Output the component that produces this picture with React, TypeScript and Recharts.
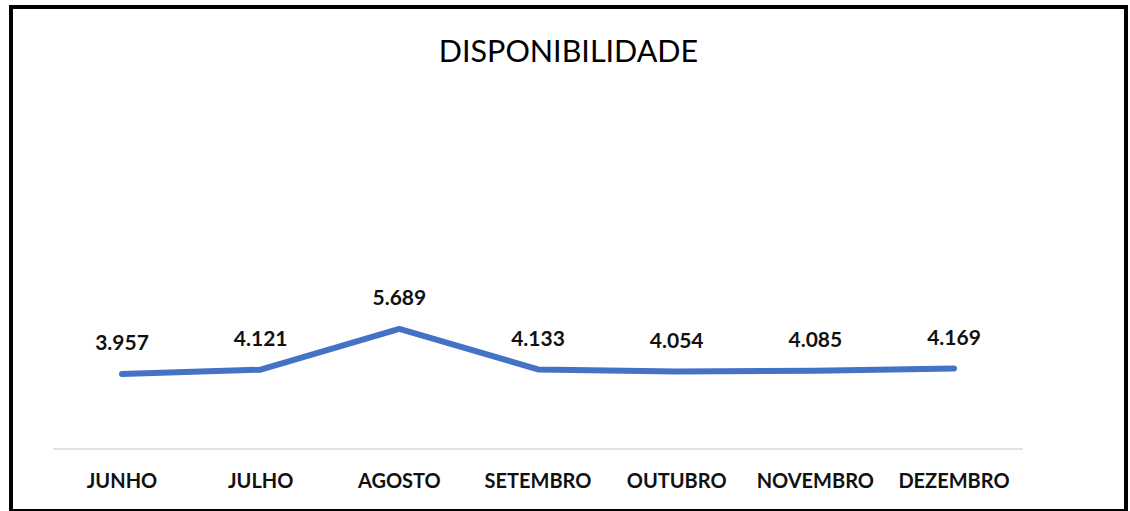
import { LineChart, Line, XAxis, YAxis, LabelList } from "recharts";

const months = ["JUNHO", "JULHO", "AGOSTO", "SETEMBRO", "OUTUBRO", "NOVEMBRO", "DEZEMBRO"];
const disponibilidade = [3957, 4121, 5689, 4133, 4054, 4085, 4169];

const data = months.map((m, i) => ({ month: m, value: disponibilidade[i] }));

const FONT = "Lato, 'Open Sans', sans-serif";

// pt-BR style thousands separator: 3957 -> "3.957"
const fmt = (v: number) => String(v).replace(/\B(?=(\d{3})+(?!\d))/g, ".");

function MonthTick(props: any) {
  const { x, y, payload } = props;
  return (
    <text
      x={x}
      y={y + 31}
      textAnchor="middle"
      dominantBaseline="central"
      fontFamily={FONT}
      fontWeight={700}
      fontSize={20}
      fill="#111"
    >
      {payload.value}
    </text>
  );
}

function ValueLabel(props: any) {
  const { x, y, value } = props;
  return (
    <text
      x={x}
      y={y - 32}
      textAnchor="middle"
      dominantBaseline="central"
      fontFamily={FONT}
      fontWeight={700}
      fontSize={21}
      fill="#111"
    >
      {fmt(Number(value))}
    </text>
  );
}

export default function App() {
  return (
    <div
      style={{
        position: "absolute",
        left: 9,
        top: 5,
        width: 1119,
        height: 506,
        boxSizing: "border-box",
        borderTop: "4px solid #000",
        borderLeft: "4px solid #000",
        borderRight: "4px solid #000",
        borderBottom: "2px solid #000",
        background: "#fff",
      }}
    >
      <div
        style={{
          position: "absolute",
          left: 0,
          right: 0,
          top: 0,
          height: 82,
          lineHeight: "82px",
          textAlign: "center",
          fontFamily: FONT,
          fontSize: 30.5,
          color: "#000",
        }}
      >
        DISPONIBILIDADE
      </div>
      <LineChart
        width={1111}
        height={500}
        data={data}
        margin={{ top: 78, right: 101, bottom: 0, left: 40 }}
      >
        <XAxis
          dataKey="month"
          height={60}
          padding={{ left: 69, right: 69 }}
          axisLine={{ stroke: "#d9d9d9", strokeWidth: 1.5 }}
          tickLine={false}
          tickSize={0}
          tickMargin={0}
          tick={<MonthTick />}
          interval={0}
        />
        <YAxis hide domain={[1070, 15000]} />
        <Line
          type="linear"
          dataKey="value"
          stroke="#4472C4"
          strokeWidth={6}
          strokeLinecap="round"
          strokeLinejoin="round"
          dot={false}
          activeDot={false}
          isAnimationActive={false}
        >
          <LabelList dataKey="value" content={<ValueLabel />} />
        </Line>
      </LineChart>
    </div>
  );
}
